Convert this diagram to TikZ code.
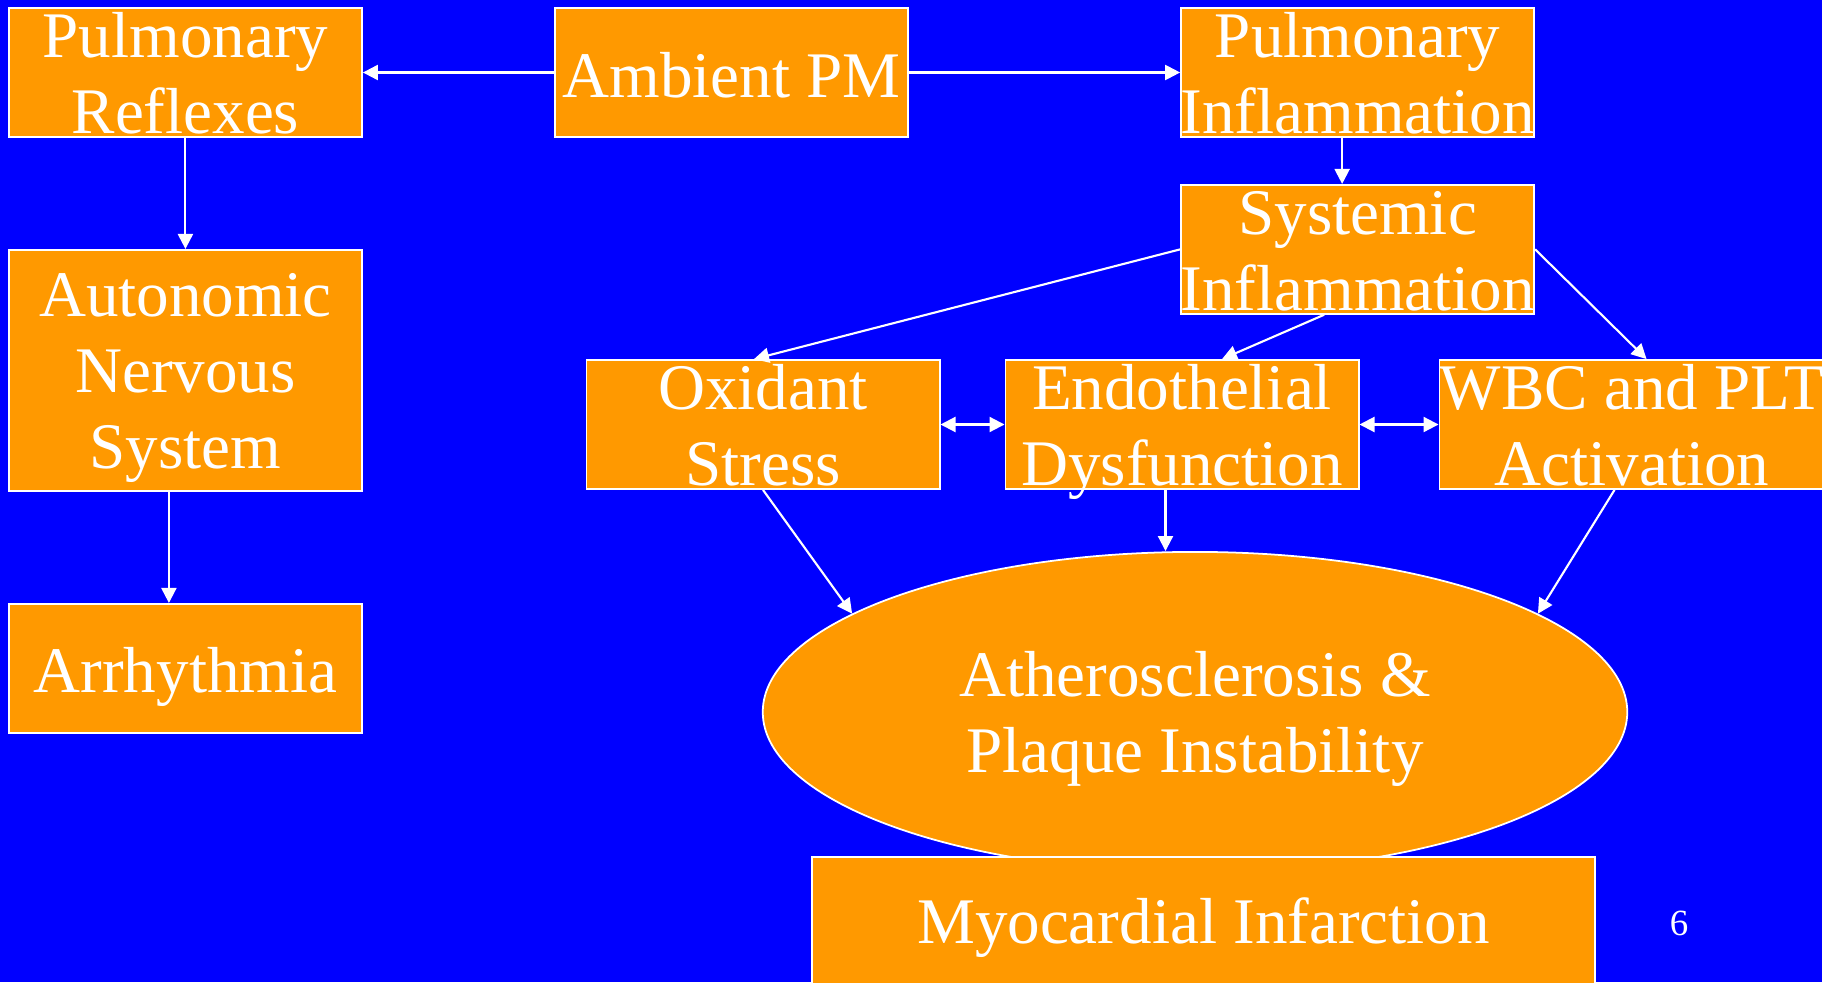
\documentclass[tikz,border=0pt]{standalone}
\usepackage{fontspec}
\setmainfont{Liberation Serif}
\usetikzlibrary{positioning,arrows.meta,shapes.geometric}
\definecolor{slideblue}{HTML}{0000FF}
\definecolor{boxorange}{HTML}{FF9900}
\tikzset{
    >={Triangle[length=1.5mm, width=1.5mm]},
    block/.style={rectangle, draw=white, fill=boxorange, text=white, line width=0.5pt,
        minimum width=3.53cm, minimum height=1.29cm, text width=4.13cm,
        inner xsep=-3mm, inner ysep=0pt, align=flush center},
    oneline/.style={block, text height=8.9mm, text depth=4.0mm},
    twoline/.style={block, text height=5.0mm, text depth=7.9mm},
    threeline/.style={block, minimum height=2.41cm, text height=6.7mm, text depth=17.4mm},
    plaque/.style={ellipse, draw=white, fill=boxorange, text=white, line width=0.5pt,
        minimum width=8.64cm, minimum height=3.2cm, text width=6cm, inner sep=0pt,
        align=flush center, text height=5mm, text depth=8mm}
}
\begin{document}
\begin{tikzpicture}[x=0.01cm, y=-0.01cm, font=\fontsize{18.5pt}{21.6pt}\selectfont,
    every edge/.style={draw=white, line width=0.6pt, ->}]
    \useasboundingbox (0,0) rectangle (1822,982);
    \clip (0,0) rectangle (1822,982);
    \fill[slideblue] (0,0) rectangle (1822,982);

    % top row and left column
    \node[oneline] (amb) at (731.5,72.5) {Ambient PM};
    \node[twoline, left=1.91cm of amb] (pref) {Pulmonary\\Reflexes};
    \node[twoline, right=2.71cm of amb] (pinf) {Pulmonary\\Inflammation};
    \node[twoline, below=0.46cm of pinf] (sinf) {Systemic\\Inflammation};
    \node[threeline, below=1.11cm of pref] (ans) {Autonomic\\Nervous\\System};
    \node[oneline, below=1.11cm of ans] (arr) {Arrhythmia};

    % middle row
    \node[twoline] (ox) at (763,424.5) {Oxidant\\Stress};
    \node[twoline, right=0.64cm of ox] (endo) {Endothelial\\Dysfunction};
    \node[twoline, right=0.79cm of endo, minimum width=3.85cm, text width=4.45cm] (wbc) {WBC and PLT\\Activation};

    % outcome
    \node[plaque] (ath) at (1195,712) {Atherosclerosis \&\\Plaque Instability};
    \node[block, anchor=north, minimum width=7.83cm, text width=8.43cm, minimum height=1.44cm,
        text height=8.7mm, text depth=5.7mm] (mi) at (1203.5,856) {Myocardial Infarction};
    \node[text=white, font=\fontsize{10.5pt}{12pt}\selectfont] (slide) at (1679,923) {6};

    \path (amb) edge (pref)
          (amb) edge (pinf)
          (pref) edge (ans)
          ([xshift=-1.65mm]ans.south) edge ([xshift=-1.65mm]arr.north)
          ([xshift=-1.55mm]pinf.south) edge ([xshift=-1.55mm]sinf.north)
          (sinf.west) edge ([xshift=-0.9mm]ox.north)
          ([xshift=-3.35mm]sinf.south) edge ([xshift=4mm]endo.north)
          (sinf.east) edge ([xshift=1.45mm]wbc.north)
          (ox) edge[<->] (endo)
          (endo) edge[<->] (wbc)
          (ox.south) edge (ath.164)
          ([xshift=-1.65mm]endo.south) edge ([xshift=-1.65mm]endo.south |- ath.north)
          ([xshift=-1.75mm]wbc.south) edge (ath.16);
\end{tikzpicture}
\end{document}
